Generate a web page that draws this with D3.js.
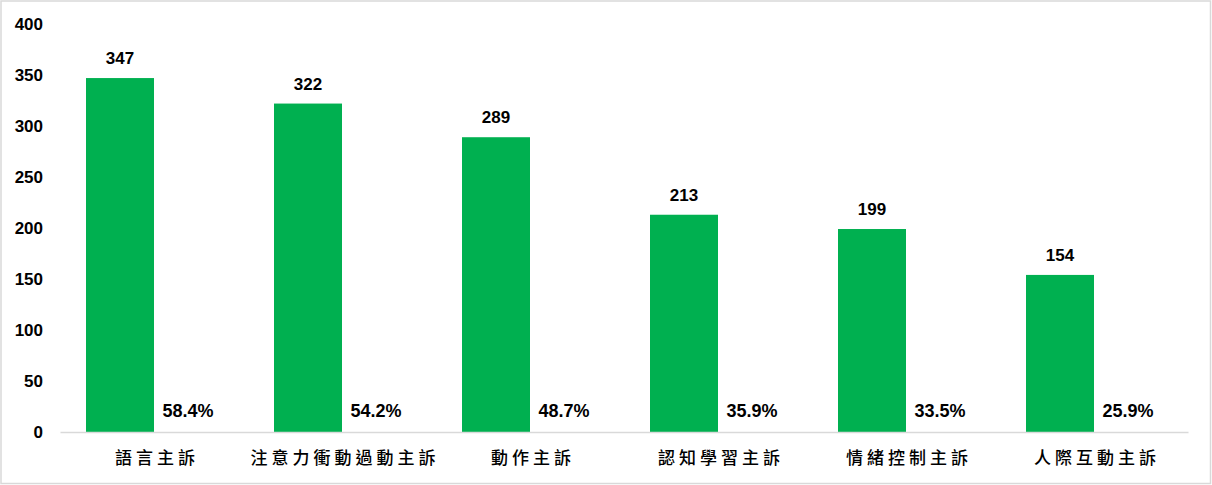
<!DOCTYPE html>
<html><head><meta charset="utf-8">
<script src="https://cdn.jsdelivr.net/npm/d3@7"></script>
<style>body{margin:0;background:#fff}svg{display:block}</style>
</head><body>
<script>
const categories = ["語言主訴","注意力衝動過動主訴","動作主訴","認知學習主訴","情緒控制主訴","人際互動主訴"];
const counts = [347,322,289,213,199,154];
const percents = ["58.4%","54.2%","48.7%","35.9%","33.5%","25.9%"];
const yTicks = [0,50,100,150,200,250,300,350,400];

const W=1212,H=485;
const svg=d3.select("body").append("svg").attr("width",W).attr("height",H);
svg.append("rect").attr("x",1).attr("y",1).attr("width",W-2.5).attr("height",H-2.5)
  .attr("fill","#fff").attr("stroke","#D9D9D9").attr("stroke-width",1.5);

const x=d3.scaleBand().domain(categories).range([60,1188]).paddingInner(0).paddingOuter(0);
const y=d3.scaleLinear().domain([0,400]).range([432,24]);
const barW=68, off=26;
const numFont="'Liberation Sans', Arial, sans-serif";

const yAxis=svg.append("g").attr("transform","translate(60,0)")
  .call(d3.axisLeft(y).tickValues(yTicks).tickSize(0).tickPadding(17));
yAxis.select(".domain").remove();
yAxis.selectAll("text").attr("font-family",numFont).attr("font-weight","bold").attr("font-size",17).attr("fill","#000");

svg.selectAll("rect.bar").data(counts).enter().append("rect").attr("class","bar")
  .attr("x",(d,i)=>x(categories[i])+off).attr("width",barW)
  .attr("y",d=>y(d)).attr("height",d=>y(0)-y(d)).attr("fill","#00B050");

svg.selectAll("text.val").data(counts).enter().append("text").attr("class","val")
  .attr("x",(d,i)=>x(categories[i])+off+barW/2).attr("y",d=>y(d)-14)
  .attr("text-anchor","middle").attr("font-family",numFont).attr("font-weight","bold")
  .attr("font-size",17).text(d=>d);

svg.selectAll("text.pct").data(percents).enter().append("text").attr("class","pct")
  .attr("x",(d,i)=>x(categories[i])+off+barW*1.5).attr("y",y(0)-15)
  .attr("text-anchor","middle").attr("font-family",numFont).attr("font-weight","bold")
  .attr("font-size",18).text(d=>d);

const xAxis=svg.append("g").attr("transform","translate(0,432)")
  .call(d3.axisBottom(x).tickSize(0).tickPadding(20));
xAxis.select(".domain").attr("stroke","#D9D9D9").attr("stroke-width",1.5);
xAxis.selectAll("text").attr("font-family","'Noto Sans CJK TC', sans-serif").attr("font-weight","500")
  .attr("font-size",17).attr("letter-spacing","4px").attr("dx",3).attr("fill","#000");
</script>
</body></html>
